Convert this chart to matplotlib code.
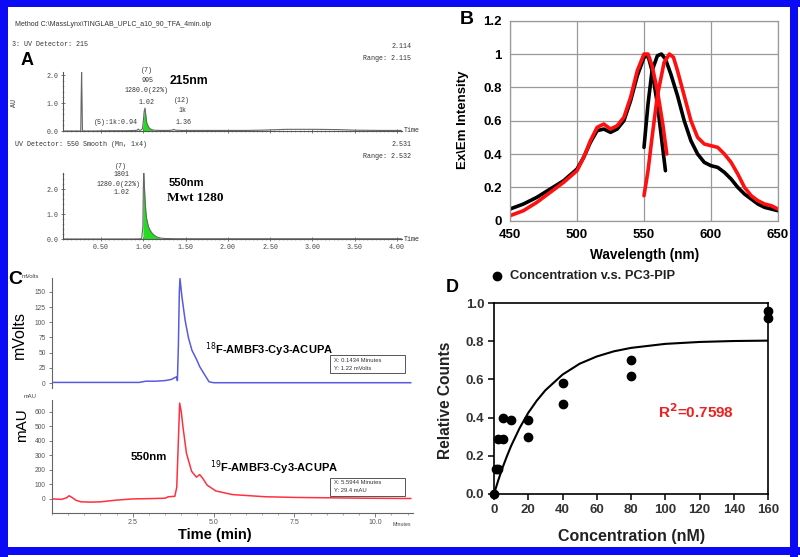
import numpy as np
import matplotlib
matplotlib.use("Agg")
import matplotlib.pyplot as plt
from matplotlib.patches import Rectangle
from matplotlib.lines import Line2D
from matplotlib.ticker import MultipleLocator, FixedLocator

W, H = 800, 557
SANS = "Liberation Sans"
MONO = "Liberation Mono"
SERIF = "Liberation Serif"

# ---------------- Panel A data (UPLC, AU vs min) ----------------
a_xticks = [0.50, 1.00, 1.50, 2.00, 2.50, 3.00, 3.50, 4.00]
a_xticklabels = ["0.50", "1.00", "1.50", "2.00", "2.50", "3.00", "3.50", "4.00"]
a_yticks = [0.0, 1.0, 2.0]
a_yticklabels = ["0.0", "1.0", "2.0"]

a215_time = [0.05, 0.20, 0.26, 0.265, 0.27, 0.275, 0.28, 0.29, 0.40, 0.60, 0.80, 0.90, 0.93,
             0.94, 0.95, 0.97, 0.99, 1.00, 1.01, 1.02, 1.03, 1.04, 1.06, 1.08, 1.10, 1.12,
             1.20, 1.30, 1.34, 1.36, 1.38, 1.45, 1.80, 2.20, 2.40, 2.70, 3.00, 3.30, 3.50,
             3.80, 4.05]
a215_au = [0.0, 0.0, 0.0, 1.2, 2.1, 1.2, 0.02, 0.0, 0.0, 0.01, 0.01, 0.02, 0.03,
           0.07, 0.03, 0.03, 0.08, 0.35, 0.70, 0.82, 0.55, 0.30, 0.15, 0.08, 0.05, 0.03,
           0.02, 0.02, 0.03, 0.06, 0.03, 0.02, 0.02, 0.02, 0.03, 0.06, 0.06, 0.05, 0.03,
           0.02, 0.02]
a215_green = (0.99, 1.12)

a550_time = [0.05, 0.50, 0.90, 0.98, 0.995, 1.00, 1.005, 1.01, 1.02, 1.03, 1.04, 1.06, 1.08,
             1.10, 1.13, 1.16, 1.20, 1.25, 1.40, 2.00, 3.00, 4.05]
a550_au = [0.0, 0.0, 0.0, 0.01, 0.5, 2.0, 2.64, 2.3, 1.6, 1.1, 0.8, 0.5, 0.35,
           0.25, 0.15, 0.08, 0.04, 0.02, 0.01, 0.01, 0.01, 0.01]
a550_green = (0.99, 1.22)

# ---------------- Panel B data (excitation / emission) ----------------
b_ex_black_nm = [450, 460, 470, 480, 490, 500, 505, 510, 515, 520, 525, 530, 535, 540, 545,
                 550, 553, 556, 560, 563, 566]
b_ex_black = [0.07, 0.10, 0.14, 0.19, 0.24, 0.31, 0.38, 0.47, 0.54, 0.55, 0.53, 0.55, 0.60,
              0.72, 0.87, 0.98, 0.99, 0.90, 0.70, 0.50, 0.30]
b_ex_red_nm = [450, 460, 470, 480, 490, 500, 505, 510, 515, 520, 525, 530, 535, 540, 545,
               550, 553, 556, 560, 564, 567]
b_ex_red = [0.03, 0.06, 0.11, 0.17, 0.23, 0.30, 0.38, 0.48, 0.56, 0.58, 0.55, 0.57, 0.62,
            0.74, 0.90, 1.00, 1.00, 0.93, 0.78, 0.58, 0.40]
b_em_black_nm = [550, 553, 556, 560, 563, 566, 570, 575, 580, 585, 590, 595, 600, 605, 610,
                 615, 620, 625, 630, 635, 640, 645, 650]
b_em_black = [0.44, 0.70, 0.90, 0.99, 1.00, 0.97, 0.88, 0.75, 0.60, 0.48, 0.40, 0.35, 0.33,
              0.32, 0.29, 0.25, 0.20, 0.16, 0.13, 0.10, 0.08, 0.07, 0.06]
b_em_red_nm = [550, 553, 556, 560, 565, 569, 572, 575, 580, 585, 590, 595, 600, 605, 610,
               615, 620, 625, 630, 635, 640, 645, 650]
b_em_red = [0.15, 0.30, 0.50, 0.75, 0.95, 1.00, 0.98, 0.90, 0.75, 0.60, 0.50, 0.46, 0.45,
            0.44, 0.40, 0.35, 0.28, 0.20, 0.15, 0.12, 0.10, 0.09, 0.07]
b_xticks = [450, 500, 550, 600, 650]
b_yticks = [0, 0.2, 0.4, 0.6, 0.8, 1.0, 1.2]
b_yticklabels = ["0", "0.2", "0.4", "0.6", "0.8", "1", "1.2"]

# ---------------- Panel C data (radio-HPLC) ----------------
c_mv_time = [0.0, 0.5, 1.0, 2.0, 2.7, 2.9, 3.2, 3.5, 3.7, 3.80, 3.86, 3.88, 3.91, 3.94,
             3.96, 4.02, 4.12, 4.22, 4.33, 4.48, 4.57, 4.73, 4.86, 5.0, 6.0, 8.0, 10.0, 11.1]
c_mv = [1, 1, 1, 1, 1, 3, 3, 4, 6, 9, 10, 4, 60, 150,
        172, 142, 103, 75, 54, 38, 27, 13, 2, 0.5, 0.5, 0.5, 0.5, 0.5]
c_mau_time = [0.0, 0.3, 0.45, 0.53, 0.62, 0.75, 0.9, 1.2, 1.5, 2.0, 2.5, 3.0, 3.5, 3.6,
              3.8, 3.86, 3.91, 3.95, 4.00, 4.05, 4.16, 4.32, 4.47, 4.57, 4.67, 4.80, 5.07,
              5.58, 6.6, 7.6, 8.5, 9.7, 11.1]
c_mau = [0, -3, 8, 22, 10, -10, -20, -22, -20, -8, 0, 2, 5, 15,
         18, 80, 400, 660, 600, 500, 315, 190, 150, 168, 140, 95, 55,
         30, 15, 10, 8, 5, 3]
c_xticks = [2.5, 5.0, 7.5, 10.0]
c_xticklabels = ["2.5", "5.0", "7.5", "10.0"]
c_mv_ticks = [0, 25, 50, 75, 100, 125, 150]
c_mau_ticks = [0, 100, 200, 300, 400, 500, 600]

# ---------------- Panel D data (binding) ----------------
d_conc = [0, 1.25, 2.5, 2.5, 5, 5, 10, 20, 20, 40, 40, 80, 80, 160, 160]
d_counts = [0.0, 0.13, 0.13, 0.29, 0.29, 0.40, 0.39, 0.39, 0.30, 0.58, 0.47, 0.70, 0.62, 0.96, 0.92]
d_fit_conc = [0, 2.5, 5, 7.5, 10, 15, 20, 25, 30, 40, 50, 60, 70, 80, 100, 120, 140, 160]
d_fit = [0.0, 0.072, 0.138, 0.197, 0.252, 0.346, 0.425, 0.489, 0.543, 0.625, 0.682, 0.720,
         0.747, 0.765, 0.786, 0.796, 0.801, 0.803]
d_xticks = [0, 20, 40, 60, 80, 100, 120, 140, 160]
d_yticks = [0.0, 0.2, 0.4, 0.6, 0.8, 1.0]

# ======================================================================
fig = plt.figure(figsize=(W / 100, H / 100), dpi=100)
fig.patch.set_facecolor("white")


def add_ax(x0, y0, x1, y1):
    return fig.add_axes([x0 / W, 1 - y1 / H, (x1 - x0) / W, (y1 - y0) / H])


def ftext(x, y, s, **kw):
    return fig.text(x / W, 1 - y / H, s, **kw)


# ---------------- Panel A ----------------
def style_a(ax, ymax, show_x):
    ax.set_xlim(0.05, 4.06)
    ax.set_ylim(0, ymax)
    for s in ("top", "right"):
        ax.spines[s].set_visible(False)
    for s in ("left", "bottom"):
        ax.spines[s].set_color("#555555")
        ax.spines[s].set_linewidth(0.8)
    ax.xaxis.set_major_locator(FixedLocator(a_xticks))
    ax.xaxis.set_minor_locator(MultipleLocator(0.05))
    ax.yaxis.set_major_locator(FixedLocator(a_yticks))
    ax.yaxis.set_minor_locator(MultipleLocator(0.2))
    ax.set_yticklabels(a_yticklabels, fontfamily=MONO, fontsize=4.8, color="#444444")
    if show_x:
        ax.set_xticklabels(a_xticklabels, fontfamily=MONO, fontsize=4.8, color="#444444")
    else:
        ax.set_xticklabels([])
    ax.tick_params(which="major", direction="inout", length=3, width=0.6, color="#666666", pad=2)
    ax.tick_params(which="minor", direction="inout", length=2, width=0.4, color="#888888")


axA1 = add_ax(63, 72, 402, 131)
t = np.array(a215_time); v = np.array(a215_au)
axA1.plot(t, v, color="#666666", lw=0.8)
m = (t >= a215_green[0]) & (t <= a215_green[1])
axA1.fill_between(t[m], 0, v[m], color="#22dd22", lw=0)
style_a(axA1, 2.11, False)

axA2 = add_ax(63, 173, 402, 239)
t = np.array(a550_time); v = np.array(a550_au)
axA2.plot(t, v, color="#666666", lw=0.8)
m = (t >= a550_green[0]) & (t <= a550_green[1])
axA2.fill_between(t[m], 0, v[m], color="#22dd22", lw=0)
style_a(axA2, 2.64, True)

mono = dict(fontfamily=MONO, fontsize=4.8, color="#333333")
ftext(15, 25, r"Method C:\MassLynx\TINGLAB_UPLC_a10_90_TFA_4min.olp", fontfamily=SANS,
      fontsize=5, color="#333333", va="center")
ftext(12, 44, "3: UV Detector: 215", va="center", **mono)
ftext(411, 47, "2.114", va="center", ha="right", **mono)
ftext(411, 58, "Range: 2.115", va="center", ha="right", **mono)
ftext(27, 61, "A", fontfamily=SANS, fontsize=13, fontweight="bold", ha="center", va="center")
ftext(14, 103, "AU", rotation=90, ha="center", va="center", **mono)
ftext(147, 70, "(7)", ha="center", va="center", **mono)
ftext(147, 81, "995", ha="center", va="center", **mono)
ftext(147, 91, "1280.0(22%)", ha="center", va="center", **mono)
ftext(147, 102, "1.02", ha="center", va="center", **mono)
ftext(170, 81, "215nm", fontfamily=SANS, fontsize=8.7, fontweight="bold", va="center")
ftext(182, 100, "(12)", ha="center", va="center", **mono)
ftext(183, 111, "1k", ha="center", va="center", **mono)
ftext(184, 122, "1.36", ha="center", va="center", **mono)
ftext(116, 122, "(5):1k:0.94", ha="center", va="center", **mono)
ftext(404, 131, "Time", va="center", **mono)
ftext(15, 145, "UV Detector: 550 Smooth (Mn, 1x4)", va="center", **mono)
ftext(411, 145, "2.531", va="center", ha="right", **mono)
ftext(411, 156, "Range: 2.532", va="center", ha="right", **mono)
ftext(121, 166, "(7)", ha="center", va="center", **mono)
ftext(122, 175, "1801", ha="center", va="center", **mono)
ftext(119, 184, "1280.0(22%)", ha="center", va="center", **mono)
ftext(122, 193, "1.02", ha="center", va="center", **mono)
ftext(169, 183, "550nm", fontfamily=SANS, fontsize=8, fontweight="bold", va="center")
ftext(167, 198, "Mwt 1280", fontfamily=SERIF, fontsize=9.5, fontweight="bold", va="center")
ftext(404, 239, "Time", va="center", **mono)

# ---------------- Panel B ----------------
axB = add_ax(510, 20.7, 778, 220.7)
axB.plot(b_ex_black_nm, b_ex_black, color="black", lw=2.6, solid_capstyle="round")
axB.plot(b_em_black_nm, b_em_black, color="black", lw=2.6, solid_capstyle="round")
axB.plot(b_ex_red_nm, b_ex_red, color="#ff1010", lw=2.6, solid_capstyle="round")
axB.plot(b_em_red_nm, b_em_red, color="#ff1010", lw=2.6, solid_capstyle="round")
axB.set_xlim(450, 650)
axB.set_ylim(0, 1.2)
axB.set_xticks(b_xticks)
axB.set_yticks(b_yticks)
axB.set_yticklabels(b_yticklabels)
axB.grid(True, color="#999999", lw=0.9)
axB.set_axisbelow(True)
for s in axB.spines.values():
    s.set_color("#999999")
    s.set_linewidth(0.9)
axB.tick_params(length=0, pad=6, labelsize=9.5)
for lab in axB.get_xticklabels() + axB.get_yticklabels():
    lab.set_fontfamily(SANS)
    lab.set_fontweight("bold")
ftext(467, 20, "B", fontfamily=SANS, fontsize=14, fontweight="bold", ha="center", va="center")
ftext(463, 120, "Ex\\Em Intensity", fontfamily=SANS, fontsize=9.5, fontweight="bold",
      rotation=90, ha="center", va="center")
ftext(645, 255, "Wavelength (nm)", fontfamily=SANS, fontsize=9.8, fontweight="bold",
      ha="center", va="center")

# ---------------- Panel C ----------------
def style_c(ax, yticks):
    ax.set_xlim(0, 11.17)
    ax.set_yticks(yticks)
    ax.set_yticklabels([str(v) for v in yticks], fontfamily=SANS, fontsize=4.8, color="#555555")
    for s in ("top", "right"):
        ax.spines[s].set_visible(False)
    ax.spines["left"].set_color("#666666")
    ax.spines["left"].set_linewidth(0.8)
    ax.tick_params(axis="y", length=2.5, width=0.6, color="#666666", pad=2)


axC1 = add_ax(52, 278, 413, 388)
axC1.plot(c_mv_time, c_mv, color="#5a5ae0", lw=1.1)
axC1.set_ylim(-8.2, 173)
style_c(axC1, c_mv_ticks)
axC1.spines["bottom"].set_visible(False)
axC1.set_xticks([])

axC2 = add_ax(52, 400, 413, 513)
axC2.plot(c_mau_time, c_mau, color="#ff3040", lw=1.1)
axC2.set_ylim(-97, 682)
style_c(axC2, c_mau_ticks)
axC2.spines["bottom"].set_color("#666666")
axC2.spines["bottom"].set_linewidth(0.8)
axC2.set_xticks(c_xticks)
axC2.set_xticklabels(c_xticklabels, fontfamily=SANS, fontsize=5, color="#555555")
axC2.xaxis.set_minor_locator(MultipleLocator(0.5))
axC2.tick_params(axis="x", which="major", length=3, width=0.6, color="#666666", pad=1.5)
axC2.tick_params(axis="x", which="minor", length=1.5, width=0.5, color="#888888")

ftext(8, 279, "C", fontfamily=SANS, fontsize=14, fontweight="bold", va="center")
ftext(22, 277, "mVolts", fontfamily=SANS, fontsize=4.2, color="#444444", va="center")
ftext(19, 335, "mVolts", fontfamily=SANS, fontsize=11.5, rotation=90, ha="center", va="center")
ftext(24, 397, "mAU", fontfamily=SANS, fontsize=4.2, color="#444444", va="center")
ftext(22, 425, "mAU", fontfamily=SANS, fontsize=11, rotation=90, ha="center", va="center")
ftext(205, 350, r"$^{18}$F-AMBF3-Cy3-ACUPA", fontfamily=SANS, fontsize=8, fontweight="bold",
      va="center")
ftext(210, 468, r"$^{19}$F-AMBF3-Cy3-ACUPA", fontfamily=SANS, fontsize=8, fontweight="bold",
      va="center")
ftext(131, 457, "550nm", fontfamily=SANS, fontsize=8.2, fontweight="bold", va="center")
for (bx, by, l1, l2) in [(330, 355, "X: 0.1434 Minutes", "Y: 1.22 mVolts"),
                         (330, 478, "X: 5.5944 Minutes", "Y: 29.4 mAU")]:
    fig.add_artist(Rectangle((bx / W, 1 - (by + 18) / H), 75 / W, 18 / H,
                             transform=fig.transFigure, fill=False, ec="#555555", lw=0.7))
    ftext(bx + 4, by + 5, l1, fontfamily=SANS, fontsize=4.2, color="#333333", va="center")
    ftext(bx + 4, by + 13, l2, fontfamily=SANS, fontsize=4.2, color="#333333", va="center")
ftext(215, 535, "Time (min)", fontfamily=SANS, fontsize=10.5, ha="center", va="center",
      fontweight="semibold")
ftext(393, 524, "Minutes", fontfamily=SANS, fontsize=3.8, color="#444444", va="center")

# ---------------- Panel D ----------------
axD = add_ax(494, 303, 768, 494)
axD.plot(d_fit_conc, d_fit, color="black", lw=1.5)
axD.plot(d_conc, d_counts, ls="", marker="o", ms=6, color="black", clip_on=False, zorder=5)
axD.set_xlim(0, 160)
axD.set_ylim(0, 1.0)
axD.set_xticks(d_xticks)
axD.set_yticks(d_yticks)
axD.set_yticklabels(["0.0", "0.2", "0.4", "0.6", "0.8", "1.0"])
for s in axD.spines.values():
    s.set_linewidth(1.2)
axD.tick_params(direction="out", length=4, width=1.1, labelsize=9.5, pad=3)
for lab in axD.get_xticklabels() + axD.get_yticklabels():
    lab.set_fontfamily(SANS)
    lab.set_fontweight("bold")
    lab.set_color("#333333")
axD.text(118, 0.43, r"R$^{\mathbf{2}}$=0.7598", color="#ee2020", fontfamily=SANS,
         fontsize=11, fontweight="bold", ha="center", va="center")
ftext(452, 288, "D", fontfamily=SANS, fontsize=13, fontweight="bold", ha="center", va="center")
fig.add_artist(Line2D([497 / W], [1 - 276 / H], marker="o", ms=6, color="black",
                      transform=fig.transFigure))
ftext(510, 276, "Concentration v.s. PC3-PIP", fontfamily=SANS, fontsize=9.3,
      fontweight="bold", va="center", color="#222222")
ftext(445, 400, "Relative Counts", fontfamily=SANS, fontsize=11.2, fontweight="bold",
      rotation=90, ha="center", va="center", color="#222222")
ftext(632, 537, "Concentration (nM)", fontfamily=SANS, fontsize=11.5, fontweight="bold",
      ha="center", va="center", color="#222222")

# ---------------- blue frame ----------------
blue = "#0a0af5"
for (x0, y0, x1, y1) in [(0, 0, 8, 557), (0, 0, 800, 7), (790, 0, 798, 557), (0, 547, 800, 555)]:
    fig.add_artist(Rectangle((x0 / W, 1 - y1 / H), (x1 - x0) / W, (y1 - y0) / H,
                             transform=fig.transFigure, color=blue, lw=0, zorder=10))

fig.savefig("out.png", dpi=100, facecolor="white")
